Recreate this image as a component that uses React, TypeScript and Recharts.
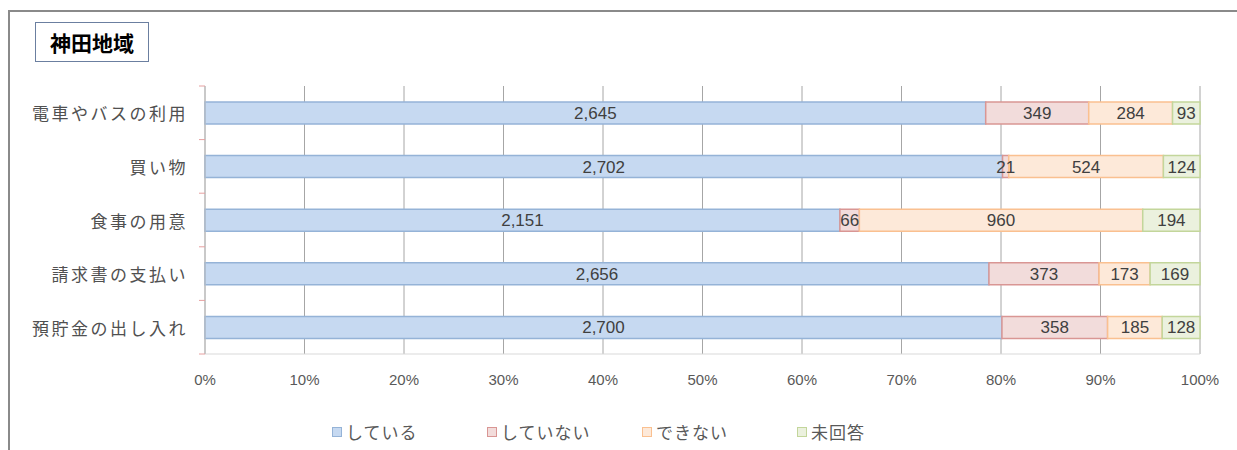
import React from 'react';
import { BarChart, Bar, XAxis, YAxis, CartesianGrid, LabelList, Legend } from 'recharts';

const categories = ['電車やバスの利用', '買い物', '食事の用意', '請求書の支払い', '預貯金の出し入れ'];
const doing = [2645, 2702, 2151, 2656, 2700];
const notDoing = [349, 21, 66, 373, 358];
const cannot = [284, 524, 960, 173, 185];
const noAnswer = [93, 124, 194, 169, 128];
const seriesNames = ['している', 'していない', 'できない', '未回答'];
const xTicks = [0, 0.1, 0.2, 0.3, 0.4, 0.5, 0.6, 0.7, 0.8, 0.9, 1];

const data = categories.map((c, i) => ({
  name: c,
  [seriesNames[0]]: doing[i],
  [seriesNames[1]]: notDoing[i],
  [seriesNames[2]]: cannot[i],
  [seriesNames[3]]: noAnswer[i],
}));

const fills = ['#c6d9f1', '#f2dcdb', '#fde9d9', '#ebf1de'];
const strokes = ['#95b3d7', '#d99694', '#fac090', '#c3d69b'];

const W = 1237;
const H = 450;
const margin = { top: 86, right: 37, bottom: 36, left: 0 };
const X_AXIS_H = 30;
const LEGEND_H = 30;
const plotH = H - margin.top - margin.bottom - X_AXIS_H - LEGEND_H;
const band = plotH / categories.length;

const fmt = (v: any) => Number(v).toLocaleString('en-US');

const YTick = (props: any) => {
  const { x, y, payload, index } = props;
  const lx = x + 8;
  return (
    <g>
      <text x={x - 3} y={y} textAnchor="end" dominantBaseline="central" fontSize={17} fill="#505050"
        letterSpacing={2.5} fontFamily="'Noto Sans CJK JP', sans-serif">{payload.value}</text>
      <line x1={lx} x2={lx + 6} y1={y - band / 2} y2={y - band / 2} stroke="#e6a0a0" />
      {index === categories.length - 1 && (
        <line x1={lx} x2={lx + 6} y1={y + band / 2} y2={y + band / 2} stroke="#e6a0a0" />
      )}
    </g>
  );
};

const LegendContent = () => {
  return (
    <div style={{ display: 'flex', paddingLeft: 332 }}>
      {seriesNames.map((name, i) => (
        <div key={name} style={{ width: 155, display: 'flex', alignItems: 'center', fontSize: 17, color: '#595959',
          letterSpacing: 1, fontFamily: "'Noto Sans CJK JP', sans-serif" }}>
          <span style={{ display: 'inline-block', width: 8, height: 8, background: fills[i], border: `1px solid ${strokes[i]}`, marginRight: 4 }} />
          {name}
        </div>
      ))}
    </div>
  );
};

export default function App() {
  return (
    <div style={{ position: 'absolute', left: 0, top: 0, width: W, height: H, background: '#fff', overflow: 'hidden' }}>
      <div style={{ position: 'absolute', left: 8, top: 10, right: -10, bottom: -10, borderTop: '2px solid #8a8a8a', borderLeft: '2px solid #8a8a8a' }} />
      <div style={{ position: 'absolute', left: 35, top: 22, width: 114, height: 40, border: '1.5px solid #6b7fa0',
        display: 'flex', alignItems: 'center', justifyContent: 'center', fontSize: 21, fontWeight: 'bold', color: '#000',
        fontFamily: "'Noto Sans CJK JP', sans-serif", boxSizing: 'border-box' }}>神田地域</div>
      <BarChart width={W} height={H} data={data} layout="vertical" stackOffset="expand" margin={margin}
        barSize={22} style={{ position: 'absolute', left: 0, top: 0 }}>
        <CartesianGrid horizontal={false} stroke="#a6a6a6" />
        <XAxis type="number" domain={[0, 1]} ticks={xTicks} height={X_AXIS_H}
          tickFormatter={(v: number) => `${Math.round(v * 100)}%`}
          tick={{ fontSize: 15, fill: '#595959', fontFamily: "'Liberation Sans', sans-serif" }}
          axisLine={{ stroke: '#d9d9d9' }} tickLine={false} tickMargin={14} />
        <YAxis type="category" dataKey="name" width={205} tick={<YTick />} tickSize={6} tickMargin={8}
          tickLine={{ stroke: 'none' }} axisLine={{ stroke: '#bfbfbf' }} />
        <Legend verticalAlign="bottom" height={LEGEND_H} content={<LegendContent />}
          wrapperStyle={{ top: 419, bottom: 'auto', left: 0, width: W }} />
        {seriesNames.map((s, i) => (
          <Bar key={s} dataKey={s} stackId="a" fill={fills[i]} stroke={strokes[i]} strokeWidth={1.5} isAnimationActive={false}>
            <LabelList dataKey={s} position="center" formatter={fmt} fill="#404040" fontSize={17}
              fontFamily="'Liberation Sans', sans-serif" />
          </Bar>
        ))}
      </BarChart>
    </div>
  );
}
